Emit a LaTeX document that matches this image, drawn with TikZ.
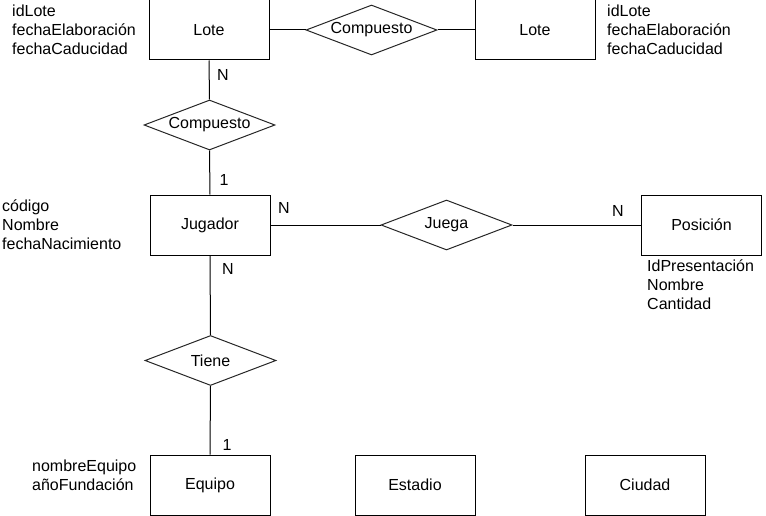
\documentclass[tikz,border=0pt]{standalone}
\usepackage{fontspec}
\setmainfont{Liberation Sans}
\usetikzlibrary{shapes.geometric}
\begin{document}
\begin{tikzpicture}[x=1pt,y=-1pt,
  every node/.style={font=\fontsize{16}{19}\selectfont, text=black},
  entity/.style={draw=black, line width=1pt, rectangle, minimum width=120pt, minimum height=60pt, inner sep=0pt},
  relation/.style={draw=black!85, line width=1pt, diamond, shape aspect=2.62, minimum width=131pt, minimum height=50pt, inner sep=0pt},
  attrs/.style={align=left, inner sep=0pt, anchor=west},
  card/.style={inner sep=0pt},
  link/.style={draw=black, line width=1pt}]
\useasboundingbox (0,0) rectangle (766,516);
% entities
\node[entity] (lote1) at (209,30) {Lote};
\node[entity] (lote2) at (535,30) {Lote};
\node[entity] (jugador) at (210,225) {Jugador};
\node[entity] (posicion) at (701.5,225) {Posición};
\node[entity] (equipo) at (210,485) {Equipo};
\node[entity] (estadio) at (415,485) {Estadio};
\node[entity] (ciudad) at (645,485) {Ciudad};
% relations
\node[relation] (comp1) at (371.5,30) {Compuesto};
\node[relation] (comp2) at (209.5,125) {Compuesto};
\node[relation] (juega) at (446.5,225) {Juega};
\node[relation] (tiene) at (210.5,360.5) {Tiene};
% attributes
\node[attrs] (alote1) at (12,30) {idLote\\fechaElaboración\\fechaCaducidad};
\node[attrs] (alote2) at (607,30) {idLote\\fechaElaboración\\fechaCaducidad};
\node[attrs] (ajug) at (2,224.5) {código\\Nombre\\fechaNacimiento};
\node[attrs] (apos) at (647,285) {IdPresentación\\Nombre\\Cantidad};
\node[attrs] (aequ) at (32,475.5) {nombreEquipo\\añoFundación};
% connectors
\draw[link] (lote1.east) -- (comp1.west);
\draw[link] (comp1.east) -- (lote2.west);
\draw[link] (lote1.south) -- (comp2.north);
\draw[link] (comp2.south) -- (jugador.north);
\draw[link] (jugador.east) -- (juega.west);
\draw[link] (juega.east) -- (posicion.west);
\draw[link] (jugador.south) -- (tiene.north);
\draw[link] (tiene.south) -- (equipo.north);
% cardinalities
\node[card] (n1) at (223,75) {N};
\node[card] (c1) at (224,180) {1};
\node[card] (n2) at (284,208) {N};
\node[card] (n3) at (618,211) {N};
\node[card] (n4) at (228,269) {N};
\node[card] (c2) at (227,445) {1};
\end{tikzpicture}
\end{document}
